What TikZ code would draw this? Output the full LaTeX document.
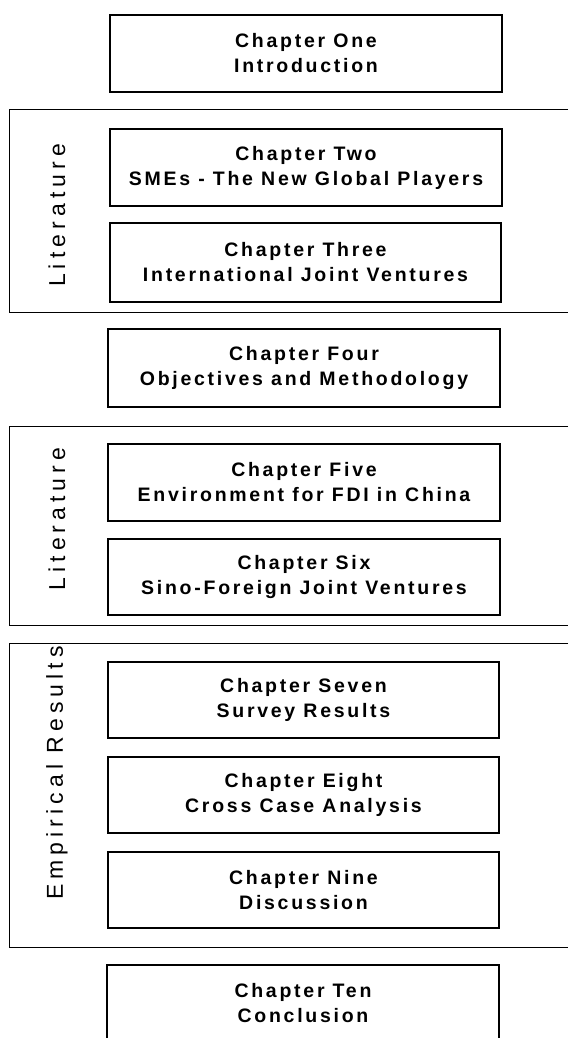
\documentclass[tikz,border=0pt]{standalone}
\usepackage{fontspec}
\setmainfont{Liberation Sans}
\newfontfamily\chapfont[LetterSpace=14]{Liberation Sans}
\newfontfamily\lblfont[LetterSpace=22]{Liberation Sans}
\tikzset{
  chapbox/.style={draw, line width=1.4pt, minimum width=392pt, minimum height=77pt,
    align=center, inner sep=0pt,
    font=\chapfont\bfseries\fontsize{19.5}{25}\selectfont},
  grouplbl/.style={rotate=90, inner sep=0pt,
    font=\lblfont\fontsize{23}{23}\selectfont},
  grp/.style={line width=1pt}
}
\begin{document}
\begin{tikzpicture}[x=1pt,y=-1pt]
\useasboundingbox (0,0) rectangle (568,1038);
\clip (0,0) rectangle (568,1038);
\fill[white] (0,0) rectangle (568,1038);

% groups
\draw[grp] (568,110) -- (9,110) -- (9,312) -- (568,312);
\draw[grp] (568,426) -- (9,426) -- (9,625) -- (568,625);
\draw[grp] (568,643) -- (9,643) -- (9,947) -- (568,947);

\node[grouplbl] (lit1) at (57,215.5) {Literature};
\node[grouplbl] (lit2) at (57,519) {Literature};
\node[grouplbl] (emp) at (57,773) {Empirical Results};

% chapters
\node[chapbox] (c1) at (306,53.5) {Chapter One\\Introduction};
\node[chapbox] (c2) at (306,167.5) {Chapter Two\\SMEs - The New Global Players};
\node[chapbox, minimum width=391pt, minimum height=79pt] (c3) at (305.5,262.5) {Chapter Three\\International Joint Ventures};
\node[chapbox, minimum height=78pt] (c4) at (304,368) {Chapter Four\\Objectives and Methodology};
\node[chapbox] (c5) at (304,482.5) {Chapter Five\\Environment for FDI in China};
\node[chapbox, minimum height=76pt] (c6) at (304,577) {Chapter Six\\Sino-Foreign Joint Ventures};
\node[chapbox, minimum width=391pt, minimum height=76pt] (c7) at (303.5,700) {Chapter Seven\\Survey Results};
\node[chapbox, minimum width=391pt, minimum height=76pt] (c8) at (303.5,795) {Chapter Eight\\Cross Case Analysis};
\node[chapbox, minimum width=391pt, minimum height=76pt] (c9) at (303.5,890) {Chapter Nine\\Discussion};
\node[chapbox, minimum height=76pt] (c10) at (303,1003) {Chapter Ten\\Conclusion};
\end{tikzpicture}
\end{document}
